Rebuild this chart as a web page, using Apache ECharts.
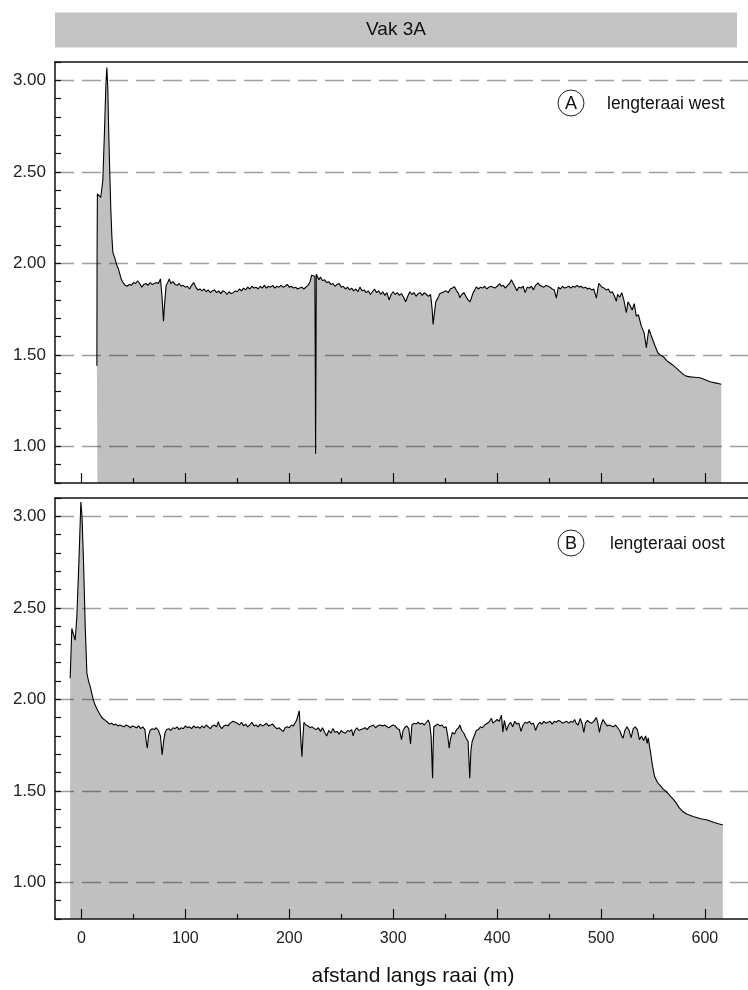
<!DOCTYPE html>
<html>
<head>
<meta charset="utf-8">
<script src="https://cdn.jsdelivr.net/npm/echarts@6/dist/echarts.min.js"></script>
<style>html,body{margin:0;padding:0;background:#fff;}#c{width:748px;height:990px;}</style>
</head>
<body>
<div id="c"></div>
<script>
// ---- data ----
var titleText = 'Vak 3A';
var xTitle = 'afstand langs raai (m)';
var labelA = 'lengteraai west';
var labelB = 'lengteraai oost';
var yTickLabels = [1.0, 1.5, 2.0, 2.5, 3.0];
var xMajorTicks = [0, 100, 200, 300, 400, 500, 600];
var xMinorTicks = [50, 150, 250, 350, 450, 550];

var distA = [14.8,15.0,15.3,17.0,18.5,19.5,20.5,22.0,23.5,24.4,25.3,26.2,27.2,28.2,29.2,30.2,32,34,35.5,37,38.5,40,42,44,46,48,50,52,54,56,58,60,62,64,66,68,70,72,74,76,77.5,78.9,80,81.5,83,84.5,86,88,90,92,94,96,98,100,102,104,106,108,110,112,114,116,118,120,122,124,126,128,130,132,134,136,138,140,142,144,146,148,150,152,154,156,158,160,162,164,166,168,170,172,174,176,178,180,182,184,186,188,190,192,194,196,198,200,202,204,206,208,210,212,214,216,218,220,221.5,223,224.6,225.0,225.3,225.6,226.0,227,228.5,230,232,234,236,238,240,242,244,246,248,250,252,254,256,258,260,262,264,266,268,270,272,274,276,278,280,282,284,286,288,290,292,294,296,298,300,302,304,306,308,310,312,314,316,318,320,322,324,326,328,330,332,334,336,337.5,338.4,339.5,341,343,345,347,349,351,353,355,357,359,361,363,364,366,368,370,372,374,375.4,377,379,380,382,384,386,388,390,392,394,396,398,400,402.6,404,406,408,410,412,413.8,415,417,419,421,423,425,427,429,431,433,435,437,439.4,441,443,445,447,449,451,453,455,457,459,461,463,465,467,469,471,473,475,477,479,481,483,485,487,489,491,493,495.6,497.8,499,501,503,505,507,509,511,513,514.8,516,518,520,522,524.4,526,528,530,532,534,536,538.8,540,541.5,543.7,545,546.2,548,550,552,554.8,557,560,563,566,569,572,575.7,579,582,586,590,595,598,602,606,610,615.8];
var elevA = [1.44,2.05,2.38,2.39,2.36,2.37,2.45,2.70,2.98,3.07,2.96,2.72,2.50,2.30,2.15,2.06,2.03,1.99,1.97,1.94,1.91,1.895,1.88,1.875,1.885,1.88,1.895,1.89,1.905,1.89,1.87,1.885,1.89,1.88,1.895,1.885,1.89,1.895,1.89,1.915,1.82,1.684,1.78,1.88,1.895,1.915,1.89,1.9,1.885,1.88,1.89,1.875,1.88,1.87,1.875,1.86,1.88,1.895,1.87,1.855,1.86,1.85,1.86,1.845,1.855,1.84,1.85,1.855,1.84,1.85,1.835,1.85,1.845,1.83,1.845,1.835,1.84,1.85,1.845,1.86,1.85,1.865,1.855,1.87,1.86,1.875,1.865,1.87,1.86,1.875,1.865,1.88,1.865,1.875,1.87,1.88,1.865,1.875,1.87,1.88,1.87,1.875,1.885,1.87,1.875,1.865,1.87,1.86,1.865,1.87,1.86,1.87,1.88,1.9,1.935,1.94,1.93,1.50,0.96,1.35,1.94,1.935,1.91,1.925,1.905,1.91,1.895,1.9,1.885,1.89,1.875,1.885,1.89,1.87,1.875,1.86,1.87,1.855,1.865,1.85,1.86,1.845,1.87,1.85,1.855,1.84,1.85,1.83,1.845,1.86,1.84,1.85,1.83,1.845,1.825,1.84,1.80,1.83,1.845,1.83,1.84,1.825,1.835,1.815,1.79,1.82,1.845,1.83,1.84,1.82,1.835,1.84,1.825,1.84,1.83,1.82,1.83,1.75,1.666,1.72,1.79,1.81,1.835,1.84,1.845,1.85,1.84,1.86,1.865,1.872,1.85,1.835,1.813,1.83,1.84,1.82,1.80,1.79,1.784,1.84,1.86,1.871,1.86,1.87,1.865,1.875,1.86,1.87,1.875,1.87,1.865,1.875,1.889,1.875,1.88,1.865,1.88,1.89,1.911,1.895,1.875,1.85,1.87,1.865,1.875,1.84,1.87,1.865,1.875,1.855,1.88,1.893,1.88,1.875,1.87,1.88,1.875,1.87,1.86,1.855,1.81,1.87,1.86,1.875,1.865,1.87,1.875,1.865,1.875,1.87,1.88,1.87,1.875,1.865,1.87,1.86,1.865,1.855,1.86,1.81,1.89,1.88,1.87,1.865,1.855,1.86,1.84,1.845,1.82,1.793,1.83,1.815,1.84,1.80,1.73,1.79,1.77,1.745,1.78,1.711,1.72,1.657,1.66,1.62,1.539,1.60,1.64,1.61,1.58,1.55,1.51,1.50,1.49,1.47,1.457,1.445,1.43,1.411,1.395,1.384,1.38,1.378,1.375,1.37,1.36,1.352,1.347,1.339];

var distB = [-10.9,-9.3,-8,-6.1,-4.5,-2.5,-0.6,0.5,1.9,3.6,5.2,6.8,8.4,10,11.5,13,14.7,16.5,18.5,20.5,23,25,27,29,31,33,35,37,39,41,43,45,47,49,51,53,55,57,59,61,62.5,63.4,64.5,66,68,70,72,74,76,77.6,79,80.5,82,84,86,88,90,92,94,96,98,100,102,104,106,108,110,112,114,116,118,120,122,124,126,128,130,131.7,133,135,137,139,141,143,146,148,150,152,154,156,158,160,162,164,166,168,170,172,174,176,178,180,182,184,186,188,190,192,194.2,196,198,200,202,204,206,207.1,208.5,209.6,210.5,211.3,212.2,213,214.1,216,218,220,222,224,226,228,230,232,234,236,238,240,242,244,246,248,250,252,254,256,258,260,261.5,263,265,267,269,271,273,275,277,279,281,283,285,287,288.8,290,292,294,296,298,300,302,304,306,308,309.5,311,313,315,316.7,318,320,322,324,326,328,330,332,333.7,335,336.5,337.9,338.5,339.1,341,343,345,347,349,351,352.5,353.9,355,357,359,361,363,364.1,366,368,370,372.1,373.7,374.8,376,378,380,382,384,386,388,389.8,392,394.6,396,398,400,402,404.2,405.5,407,409,411,413,415,417,419,421,423,425,427,429,431,433,435,437,439,441,443,445,447,449,451,453,455,457,459,461,463,465,467,469,471,473,474.7,476,478,480,482,483.5,485,487,489,491,493,495.6,497,498.5,500,502,504,506,508,510,512,514,516,518,520,521.2,523,525,527,529,531,533,535,537,539,541,543,544.5,545.5,546.8,548,549.5,551.6,554,556,558,560,562,564.4,567,569.5,572.5,575,578.8,582,585,588.5,592,596,601.3,605,609,613,617.3];
var elevB = [2.115,2.387,2.38,2.323,2.45,2.75,3.078,3.0,2.76,2.396,2.142,2.10,2.069,2.03,1.996,1.97,1.95,1.93,1.91,1.895,1.885,1.875,1.865,1.87,1.86,1.865,1.855,1.86,1.855,1.85,1.86,1.855,1.845,1.855,1.85,1.845,1.855,1.84,1.85,1.835,1.76,1.734,1.80,1.83,1.84,1.835,1.845,1.83,1.80,1.696,1.77,1.82,1.835,1.84,1.83,1.845,1.84,1.85,1.835,1.845,1.84,1.855,1.845,1.85,1.84,1.855,1.845,1.85,1.842,1.855,1.845,1.86,1.85,1.84,1.855,1.86,1.85,1.878,1.855,1.84,1.855,1.86,1.855,1.87,1.88,1.875,1.87,1.86,1.875,1.855,1.865,1.85,1.86,1.875,1.855,1.86,1.85,1.865,1.855,1.86,1.87,1.855,1.86,1.865,1.85,1.84,1.845,1.835,1.824,1.845,1.85,1.845,1.86,1.855,1.875,1.887,1.915,1.938,1.85,1.76,1.687,1.78,1.875,1.86,1.855,1.845,1.85,1.84,1.835,1.845,1.825,1.845,1.82,1.80,1.83,1.815,1.84,1.82,1.825,1.81,1.83,1.82,1.815,1.83,1.825,1.835,1.80,1.83,1.845,1.83,1.835,1.84,1.845,1.835,1.85,1.855,1.86,1.845,1.855,1.86,1.869,1.855,1.86,1.85,1.845,1.855,1.86,1.855,1.84,1.835,1.78,1.83,1.845,1.855,1.84,1.756,1.86,1.87,1.865,1.875,1.865,1.87,1.86,1.875,1.887,1.87,1.80,1.569,1.75,1.85,1.86,1.865,1.855,1.86,1.845,1.85,1.80,1.733,1.78,1.82,1.81,1.835,1.845,1.86,1.83,1.815,1.79,1.77,1.569,1.72,1.77,1.80,1.83,1.835,1.85,1.845,1.86,1.869,1.875,1.896,1.87,1.88,1.89,1.88,1.914,1.82,1.885,1.83,1.86,1.875,1.85,1.88,1.865,1.87,1.825,1.86,1.875,1.87,1.88,1.865,1.87,1.83,1.86,1.875,1.865,1.88,1.87,1.875,1.88,1.865,1.88,1.875,1.885,1.88,1.87,1.875,1.88,1.87,1.88,1.875,1.89,1.87,1.86,1.895,1.865,1.82,1.87,1.885,1.875,1.87,1.88,1.9,1.87,1.82,1.86,1.89,1.87,1.855,1.86,1.855,1.85,1.86,1.845,1.83,1.80,1.787,1.83,1.85,1.83,1.79,1.84,1.85,1.835,1.78,1.80,1.775,1.80,1.76,1.79,1.741,1.70,1.64,1.578,1.55,1.535,1.523,1.51,1.50,1.487,1.47,1.455,1.433,1.41,1.387,1.375,1.368,1.36,1.355,1.348,1.342,1.335,1.327,1.32,1.314];

// ---- chart ----
var FONT = 'Liberation Sans, Arial, sans-serif';
var XMIN = -25.5, XMAX = 641.5, YMIN = 0.8, YMAX = 3.1;

function pairs(xs, ys) { var out = []; for (var i = 0; i < xs.length; i++) out.push([xs[i], ys[i]]); return out; }

function xAxesFor(gi, withLabels) {
  return [
    { gridIndex: gi, type: 'value', position: 'bottom', min: XMIN, max: XMAX, z: 10,
      axisLine: { show: true, onZero: false, lineStyle: { color: '#111', width: 1.5 } },
      axisTick: { show: true, inside: true, length: 10, lineStyle: { color: '#111', width: 1.2 }, customValues: xMajorTicks },
      axisLabel: { show: withLabels, margin: 12, color: '#222', fontSize: 16, fontFamily: FONT, customValues: xMajorTicks },
      splitLine: { show: false } },
    { gridIndex: gi, type: 'value', position: 'bottom', min: XMIN, max: XMAX, z: 10,
      axisLine: { show: false, onZero: false },
      axisTick: { show: true, inside: true, length: 5, lineStyle: { color: '#111', width: 1.2 }, customValues: xMinorTicks },
      axisLabel: { show: false }, splitLine: { show: false } },
    { gridIndex: gi, type: 'value', position: 'top', min: XMIN, max: XMAX, z: 10,
      axisLine: { show: true, onZero: false, lineStyle: { color: '#111', width: 1.5 } },
      axisTick: { show: false }, axisLabel: { show: false }, splitLine: { show: false } }
  ];
}

function yAxisFor(gi) {
  return { gridIndex: gi, type: 'value', min: YMIN, max: YMAX, interval: 0.1, z: 10,
    axisLine: { show: true, onZero: false, lineStyle: { color: '#111', width: 1.5 } },
    axisTick: { show: true, inside: true, length: 6, lineStyle: { color: '#111', width: 1.2 } },
    axisLabel: { show: true, margin: 9, color: '#222', fontSize: 17, fontFamily: FONT,
      formatter: function (v) { var r = Math.round(v * 2) / 2; return (Math.abs(v - r) < 1e-6 && v >= 0.99 && v <= 3.01) ? v.toFixed(2) : ''; } },
    splitLine: { show: false } };
}

function seriesFor(xi, yi, data) {
  return { type: 'line', xAxisIndex: xi, yAxisIndex: yi, data: data, showSymbol: false, symbol: 'none',
    lineStyle: { color: '#000', width: 1.1 }, areaStyle: { color: '#c0c0c0', opacity: 1, origin: 'start' },
    silent: true, animation: false,
    markLine: { silent: true, symbol: ['none', 'none'], label: { show: false }, animation: false,
      lineStyle: { color: 'rgba(0,0,0,0.38)', width: 1.4, type: [19, 8] },
      data: yTickLabels.map(function (v) { return { yAxis: v }; }) } };
}

var chart = echarts.init(document.getElementById('c'), null, { renderer: 'canvas' });
chart.setOption({
  backgroundColor: '#fff',
  animation: false,
  grid: [
    { left: 55, top: 62, right: 0, height: 421, containLabel: false },
    { left: 55, top: 498, right: 0, height: 421, containLabel: false }
  ],
  xAxis: xAxesFor(0, false).concat(xAxesFor(1, true)),
  yAxis: [yAxisFor(0), yAxisFor(1)],
  series: [seriesFor(0, 0, pairs(distA, elevA)), seriesFor(3, 1, pairs(distB, elevB))],
  graphic: [
    { type: 'rect', shape: { x: 55, y: 12.5, width: 682, height: 35 }, style: { fill: '#c3c3c3' }, silent: true },
    { type: 'text', x: 396, y: 30, style: { text: titleText, fill: '#111', font: '19px ' + FONT, textAlign: 'center', textVerticalAlign: 'middle' }, silent: true },
    { type: 'circle', shape: { cx: 571, cy: 103, r: 13 }, style: { fill: '#fff', stroke: '#222', lineWidth: 1 }, silent: true, z: 100 },
    { type: 'text', x: 571, y: 104, style: { text: 'A', fill: '#111', font: '18px ' + FONT, textAlign: 'center', textVerticalAlign: 'middle' }, silent: true, z: 101 },
    { type: 'text', x: 607, y: 104, style: { text: labelA, fill: '#111', font: '17.5px ' + FONT, textAlign: 'left', textVerticalAlign: 'middle' }, silent: true, z: 101 },
    { type: 'circle', shape: { cx: 571, cy: 543, r: 13 }, style: { fill: '#fff', stroke: '#222', lineWidth: 1 }, silent: true, z: 100 },
    { type: 'text', x: 571, y: 544, style: { text: 'B', fill: '#111', font: '18px ' + FONT, textAlign: 'center', textVerticalAlign: 'middle' }, silent: true, z: 101 },
    { type: 'text', x: 610, y: 544, style: { text: labelB, fill: '#111', font: '17.5px ' + FONT, textAlign: 'left', textVerticalAlign: 'middle' }, silent: true, z: 101 },
    { type: 'text', x: 413, y: 976, style: { text: xTitle, fill: '#111', font: '21px ' + FONT, textAlign: 'center', textVerticalAlign: 'middle' }, silent: true }
  ]
});
</script>
</body>
</html>
